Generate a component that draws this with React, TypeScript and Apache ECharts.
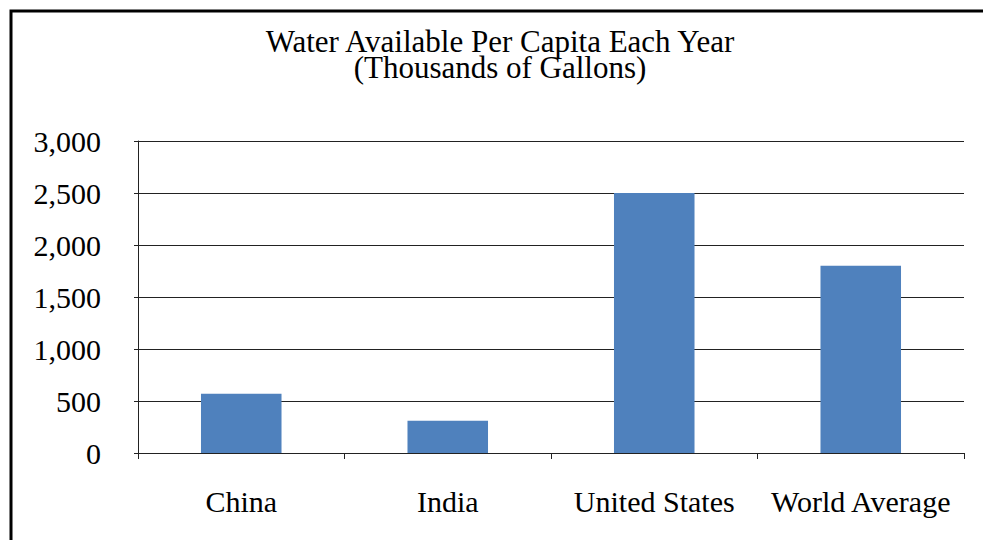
import React, { useEffect, useRef } from "react";
import * as echarts from "echarts";

const categories = ["China", "India", "United States", "World Average"];
const waterPerCapita = [570, 310, 2500, 1800];
const yTicks = { min: 0, max: 3000, interval: 500 };
const titleLines = ["Water Available Per Capita Each Year", "(Thousands of Gallons)"];

const FONT = "Liberation Serif";

export default function App() {
  const ref = useRef<HTMLDivElement>(null);

  useEffect(() => {
    if (!ref.current) return;
    const chart = echarts.init(ref.current, null, { renderer: "svg" });
    chart.setOption({
      animation: false,
      backgroundColor: "#ffffff",
      graphic: [
        {
          type: "rect",
          shape: { x: 11, y: 11, width: 1100, height: 700 },
          style: { fill: "none", stroke: "#000", lineWidth: 3 },
          silent: true,
        },
        // two-line chart title, tightly spaced
        ...titleLines.map((line, i) => ({
          type: "text",
          x: 500,
          y: 41 + i * 26,
          silent: true,
          style: {
            text: line,
            fontFamily: FONT,
            fontSize: 31,
            lineHeight: 26,
            fill: "#000",
            align: "center",
            verticalAlign: "middle",
          },
        })),
      ],
      grid: { left: 138, right: 19, top: 141, bottom: 87, containLabel: false },
      xAxis: {
        type: "category",
        data: categories,
        axisLine: { show: true, lineStyle: { color: "#222", width: 1 } },
        axisTick: { show: true, interval: 0, length: 6, lineStyle: { color: "#222" } },
        axisLabel: {
          interval: 0,
          fontFamily: FONT,
          fontSize: 30,
          color: "#000",
          margin: 33,
        },
      },
      yAxis: {
        type: "value",
        min: yTicks.min,
        max: yTicks.max,
        interval: yTicks.interval,
        axisLine: { show: true, lineStyle: { color: "#222", width: 1 } },
        axisTick: { show: true, length: 4, lineStyle: { color: "#222" } },
        splitLine: { show: true, lineStyle: { color: "#222", width: 1 } },
        axisLabel: {
          fontFamily: FONT,
          fontSize: 30,
          color: "#000",
          margin: 37,
          formatter: (v: number) => v.toLocaleString("en-US"),
        },
      },
      series: [
        {
          type: "bar",
          data: waterPerCapita,
          barWidth: "39%",
          itemStyle: { color: "#4F81BD" },
        },
      ],
    });
    return () => chart.dispose();
  }, []);

  return (
    <div
      ref={ref}
      style={{ position: "fixed", left: 0, top: 0, width: 983, height: 540, background: "#fff" }}
    />
  );
}
